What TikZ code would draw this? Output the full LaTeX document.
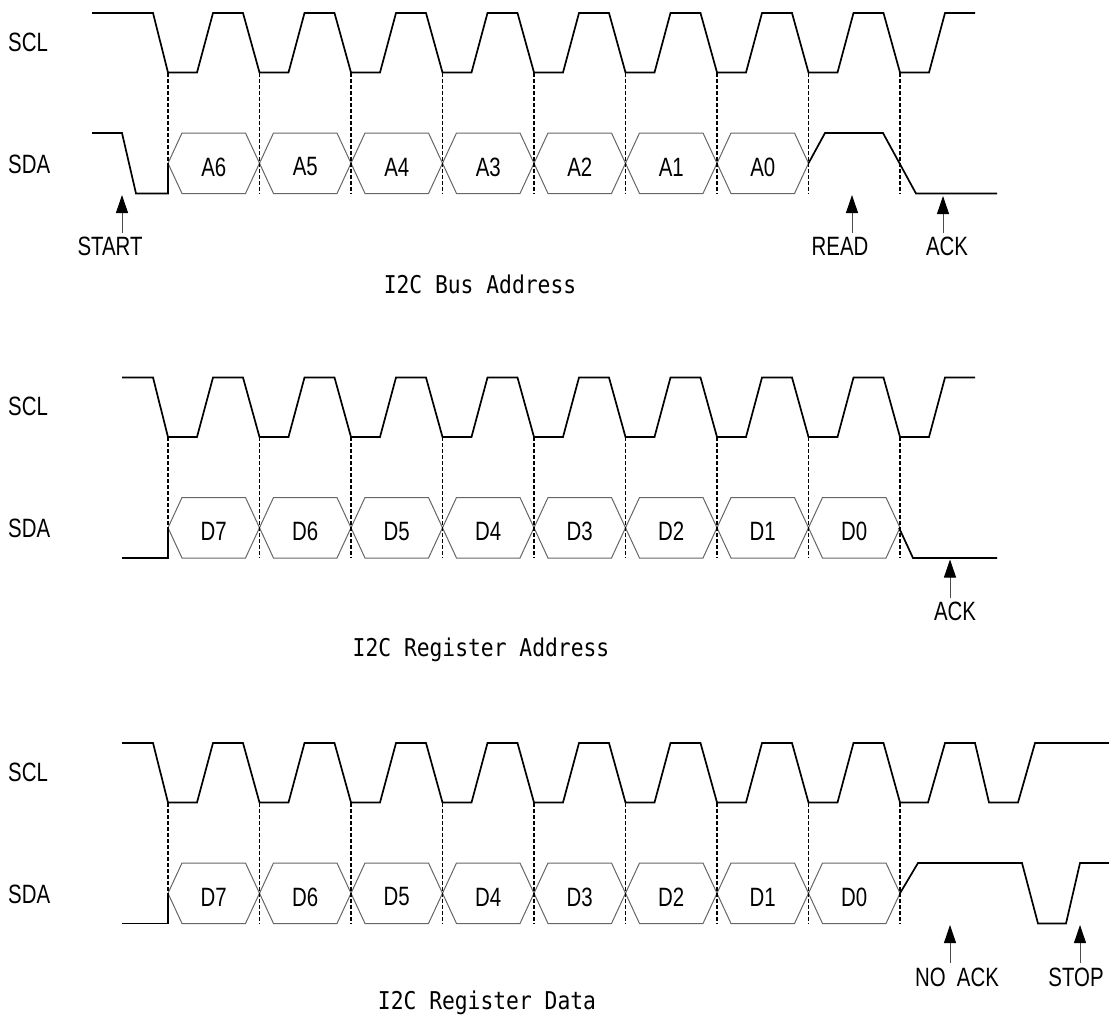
\documentclass[tikz,border=0pt]{standalone}
\usepackage{fontspec}
\setmainfont{Liberation Sans}
\newfontfamily\lblfont[FakeStretch=0.77]{Liberation Sans}
\newfontfamily\ttlfont[FakeStretch=0.87]{DejaVu Sans Mono}
\usetikzlibrary{arrows.meta}
\begin{document}
\begin{tikzpicture}[x=1pt,y=-1pt,
  wave/.style={line width=1.7pt, black, line join=miter},
  bus/.style={line width=1pt, black!60, line join=miter},
  guide/.style={line width=1.6pt, black, dash pattern=on 4pt off 2pt},
  lbl/.style={font=\lblfont\fontsize{26.5}{26.5}\selectfont, inner sep=0pt},
  ttl/.style={font=\ttlfont\fontsize{24.5}{24.5}\selectfont, inner sep=0pt},
  ptr/.style={line width=0.9pt, black!70, -{Triangle[length=18pt,width=12pt,color=black]}}
]
\useasboundingbox (0,0) rectangle (1109,1028);

% ================= Panel 1: I2C Bus Address =================
\begin{scope}[shift={(0,13)}]
  \node[lbl, anchor=west] (sclA) at (8,29) {SCL};
  \node[lbl, anchor=west] (sdaA) at (8,151) {SDA};
  % SCL
  \draw[wave] (92,0) -- (153,0) -- (168,59.5)
    \foreach \i in {0,...,7} { -- ++(29,0) -- ++(16,-59.5) -- ++(30,0) -- ++(16.5,59.5) }
    -- ++(29,0) -- ++(16,-59.5) -- (975,0);
  % SDA start
  \draw[wave] (92,120) -- (122,120) -- (136,180.5) -- (168,180.5) -- (168,150.25);
  % data hexagons
  \foreach \lab [count=\i from 0] in {A6,A5,A4,A3,A2,A1,A0} {
    \pgfmathsetmacro{\t}{168+91.5*\i}
    \draw[bus] (\t,150.25) -- (\t+14,120) -- (\t+77.5,120) -- (\t+91.5,150.25)
               -- (\t+77.5,180.5) -- (\t+14,180.5) -- cycle;
    \node[lbl] (pA\i) at (\t+45.75,154) {\lab};
  }
  % dashed guides
  \foreach \i in {0,...,8} {
    \pgfmathsetmacro{\t}{168+91.5*\i}
    \draw[guide] (\t,59.5) -- (\t,180.5);
  }
  % READ bit and ACK
  \draw[wave] (808.5,150.25) -- (825,120) -- (883,120) -- (916,180.5) -- (997,180.5);
  % arrows
  \coordinate (startTip) at (122,182);
  \coordinate (startTail) at (122,220);
  \node[lbl] (startLbl) at (110,233) {START};
  \draw[ptr] (startTail) -- (startTip);
  \coordinate (readTip) at (852,182);
  \coordinate (readTail) at (852,220);
  \node[lbl] (readLbl) at (840,233) {READ};
  \draw[ptr] (readTail) -- (readTip);
  \coordinate (ackATip) at (943,183);
  \coordinate (ackATail) at (943,220);
  \node[lbl] (ackALbl) at (947,233) {ACK};
  \draw[ptr] (ackATail) -- (ackATip);
\end{scope}
\node[ttl] (title1) at (480,284) {I2C Bus Address};

% ================= Panel 2: I2C Register Address =================
\begin{scope}[shift={(0,377.5)}]
  \node[lbl, anchor=west] (sclB) at (8,29) {SCL};
  \node[lbl, anchor=west] (sdaB) at (8,151) {SDA};
  \draw[wave] (122,0) -- (153,0) -- (168,59.5)
    \foreach \i in {0,...,7} { -- ++(29,0) -- ++(16,-59.5) -- ++(30,0) -- ++(16.5,59.5) }
    -- ++(29,0) -- ++(16,-59.5) -- (975,0);
  \draw[wave] (122,180.5) -- (168,180.5) -- (168,150.25);
  \foreach \lab [count=\i from 0] in {D7,D6,D5,D4,D3,D2,D1,D0} {
    \pgfmathsetmacro{\t}{168+91.5*\i}
    \draw[bus] (\t,150.25) -- (\t+14,120) -- (\t+77.5,120) -- (\t+91.5,150.25)
               -- (\t+77.5,180.5) -- (\t+14,180.5) -- cycle;
    \node[lbl] (pB\i) at (\t+45.75,154) {\lab};
  }
  \foreach \i in {0,...,8} {
    \pgfmathsetmacro{\t}{168+91.5*\i}
    \draw[guide] (\t,59.5) -- (\t,180.5);
  }
  \draw[wave] (899,150.25) -- (913,180.5) -- (997,180.5);
  \coordinate (ackBTip) at (950,182);
  \coordinate (ackBTail) at (950,220);
  \node[lbl] (ackBLbl) at (955,234) {ACK};
  \draw[ptr] (ackBTail) -- (ackBTip);
\end{scope}
\node[ttl] (title2) at (481,650) {I2C Register Address};

% ================= Panel 3: I2C Register Data =================
\begin{scope}[shift={(0,743)}]
  \node[lbl, anchor=west] (sclC) at (8,29) {SCL};
  \node[lbl, anchor=west] (sdaC) at (8,151) {SDA};
  \draw[wave] (122,0) -- (153,0) -- (168,59.5)
    \foreach \i in {0,...,7} { -- ++(29,0) -- ++(16,-59.5) -- ++(30,0) -- ++(16.5,59.5) }
    -- ++(28,0) -- ++(17,-59.5) -- ++(30,0) -- ++(14,59.5) -- ++(29,0) -- ++(17,-59.5) -- (1109,0);
  \draw[wave] (122,180.5) -- (168,180.5) -- (168,150.25);
  \foreach \lab [count=\i from 0] in {D7,D6,D5,D4,D3,D2,D1,D0} {
    \pgfmathsetmacro{\t}{168+91.5*\i}
    \draw[bus] (\t,150.25) -- (\t+14,120) -- (\t+77.5,120) -- (\t+91.5,150.25)
               -- (\t+77.5,180.5) -- (\t+14,180.5) -- cycle;
    \node[lbl] (pC\i) at (\t+45.75,154) {\lab};
  }
  \foreach \i in {0,...,8} {
    \pgfmathsetmacro{\t}{168+91.5*\i}
    \draw[guide] (\t,59.5) -- (\t,180.5);
  }
  \draw[wave] (900,150.25) -- (918,120) -- (1022,120) -- (1038,180.5) -- (1066,180.5)
    -- (1080,120) -- (1109,120);
  \coordinate (nackTip) at (950,182);
  \coordinate (nackTail) at (950,220);
  \node[lbl] (nackLbl) at (957,234) {NO\ \ ACK};
  \draw[ptr] (nackTail) -- (nackTip);
  \coordinate (stopTip) at (1080,182);
  \coordinate (stopTail) at (1080,220);
  \node[lbl] (stopLbl) at (1076,234) {STOP};
  \draw[ptr] (stopTail) -- (stopTip);
\end{scope}
\node[ttl] (title3) at (487,1003) {I2C Register Data};
\end{tikzpicture}
\end{document}
